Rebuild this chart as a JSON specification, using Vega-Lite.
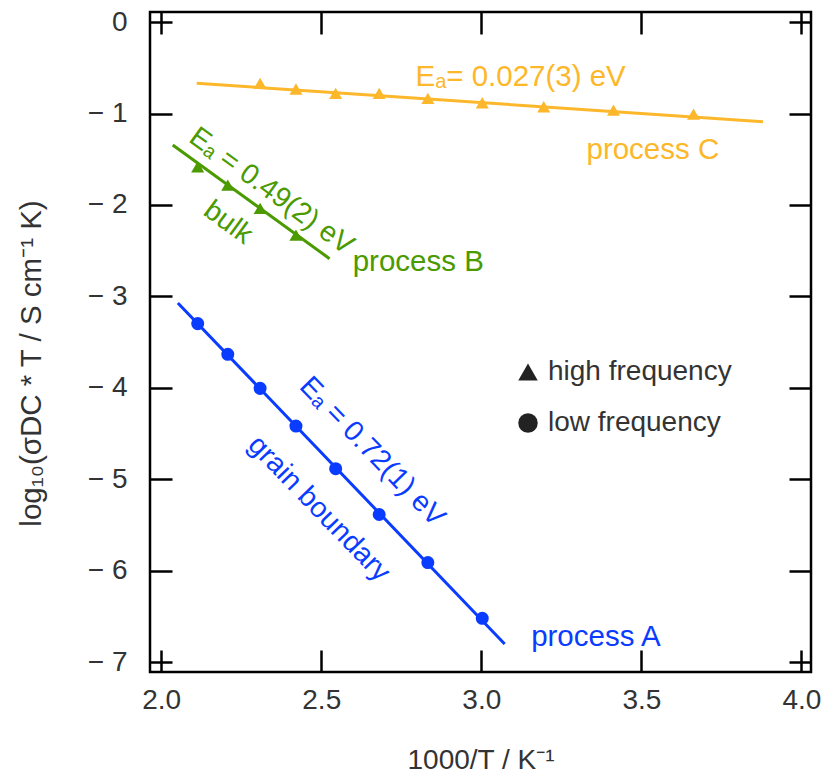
{
  "$schema": "https://vega.github.io/schema/vega-lite/v6.json",
  "width": 661,
  "height": 660,
  "autosize": {"type": "none"},
  "padding": {"left": 150, "top": 12, "right": 14, "bottom": 101},
  "background": "white",
  "config": {
    "font": "Liberation Sans",
    "view": {"stroke": "#000", "strokeWidth": 2.5},
    "axis": {
      "domain": false, "grid": false,
      "tickColor": "#000", "tickWidth": 2.5, "tickSize": -22,
      "labelFont": "Liberation Sans", "labelFontSize": 28, "labelColor": "#333",
      "titleFont": "Liberation Sans", "titleFontSize": 28, "titleColor": "#333", "titleFontWeight": "normal"
    },
    "text": {"font": "Liberation Sans", "fontSize": 29.5}
  },
  "datasets": {
    "fits": [
      {"process": "A", "x": 2.052, "y": -3.071},
      {"process": "A", "x": 3.073, "y": -6.799},
      {"process": "B", "x": 2.036, "y": -1.345},
      {"process": "B", "x": 2.526, "y": -2.587},
      {"process": "C", "x": 2.111, "y": -0.670},
      {"process": "C", "x": 3.880, "y": -1.090}
    ],
    "points": [
      {"process": "A", "freq": "low frequency", "x": 2.114, "y": -3.297},
      {"process": "A", "freq": "low frequency", "x": 2.208, "y": -3.633},
      {"process": "A", "freq": "low frequency", "x": 2.309, "y": -4.005},
      {"process": "A", "freq": "low frequency", "x": 2.421, "y": -4.417},
      {"process": "A", "freq": "low frequency", "x": 2.545, "y": -4.883},
      {"process": "A", "freq": "low frequency", "x": 2.681, "y": -5.384},
      {"process": "A", "freq": "low frequency", "x": 2.833, "y": -5.909},
      {"process": "A", "freq": "low frequency", "x": 3.003, "y": -6.519},
      {"process": "B", "freq": "high frequency", "x": 2.114, "y": -1.583},
      {"process": "B", "freq": "high frequency", "x": 2.208, "y": -1.783},
      {"process": "B", "freq": "high frequency", "x": 2.309, "y": -2.038},
      {"process": "B", "freq": "high frequency", "x": 2.421, "y": -2.330},
      {"process": "C", "freq": "high frequency", "x": 2.309, "y": -0.670},
      {"process": "C", "freq": "high frequency", "x": 2.421, "y": -0.732},
      {"process": "C", "freq": "high frequency", "x": 2.545, "y": -0.779},
      {"process": "C", "freq": "high frequency", "x": 2.681, "y": -0.779},
      {"process": "C", "freq": "high frequency", "x": 2.833, "y": -0.834},
      {"process": "C", "freq": "high frequency", "x": 3.003, "y": -0.882},
      {"process": "C", "freq": "high frequency", "x": 3.195, "y": -0.926},
      {"process": "C", "freq": "high frequency", "x": 3.413, "y": -0.963},
      {"process": "C", "freq": "high frequency", "x": 3.663, "y": -1.006}
    ],
    "flatLabels": [
      {"process": "C", "text": "Eₐ= 0.027(3) eV", "x": 3.123, "y": -0.601},
      {"process": "C", "text": "process C", "x": 3.536, "y": -1.400},
      {"process": "B", "text": "process B", "x": 2.803, "y": -2.622},
      {"process": "A", "text": "process A", "x": 3.358, "y": -6.719}
    ],
    "greenLabels": [
      {"process": "B", "text": "Eₐ = 0.49(2) eV", "x": 2.345, "y": -1.845},
      {"process": "B", "text": "bulk", "x": 2.210, "y": -2.188}
    ],
    "blueLabels": [
      {"process": "A", "text": "Eₐ = 0.72(1) eV", "x": 2.660, "y": -4.694},
      {"process": "A", "text": "grain boundary", "x": 2.494, "y": -5.318}
    ],
    "frame": [{"x": 3, "y": -3}]
  },
  "layer": [
    {
      "encoding": {
        "x": {"field": "x", "type": "quantitative",
              "scale": {"domain": [1.965, 4.03], "nice": false, "zero": false},
              "axis": {"orient": "bottom", "values": [2, 2.5, 3, 3.5, 4], "format": ".1f",
                       "labelPadding": 36, "title": "1000/T / K⁻¹",
                       "titleBaseline": "alphabetic", "titleY": 96}},
        "y": {"field": "y", "type": "quantitative",
              "scale": {"domain": [-7.106, 0.11], "nice": false, "zero": false},
              "axis": {"orient": "left", "values": [0, -1, -2, -3, -4, -5, -6, -7],
                       "labelExpr": "datum.value == 0 ? '0' : '− ' + abs(datum.value)",
                       "labelPadding": 45, "labelBaseline": "middle",
                       "title": "log₁₀(σDC * T / S cm⁻¹ K)", "titleFontSize": 29.5,
                       "titleAngle": 270, "titleBaseline": "middle", "titleX": -119, "titleY": 351}},
        "color": {"field": "process", "type": "nominal",
                  "scale": {"domain": ["A", "B", "C"], "range": ["#0a3cff", "#4a9a00", "#fdb72a"]},
                  "legend": null}
      },
      "layer": [
        {
          "data": {"name": "fits"},
          "mark": {"type": "line", "strokeWidth": 3},
          "encoding": {"detail": {"field": "process"}}
        },
        {
          "data": {"name": "points"},
          "mark": {"type": "point", "filled": true, "opacity": 1, "size": 170},
          "encoding": {
            "shape": {"field": "freq", "type": "nominal",
                      "scale": {"domain": ["high frequency", "low frequency"], "range": ["triangle-up", "circle"]},
                      "legend": {"title": null, "orient": "none", "legendX": 364, "legendY": 346,
                                 "padding": 0, "symbolSize": 380, "symbolFillColor": "#222",
                                 "symbolStrokeColor": "#222", "symbolStrokeWidth": 0,
                                 "labelFontSize": 28, "labelColor": "#333", "labelFont": "Liberation Sans",
                                 "labelOffset": 6, "labelLimit": 0, "rowPadding": 23}}
          }
        },
        {
          "data": {"name": "flatLabels"},
          "mark": {"type": "text", "align": "center", "baseline": "middle"},
          "encoding": {"text": {"field": "text"}}
        },
        {
          "data": {"name": "greenLabels"},
          "mark": {"type": "text", "align": "center", "baseline": "middle", "angle": 36, "fontSize": 28.5},
          "encoding": {"text": {"field": "text"}}
        },
        {
          "data": {"name": "blueLabels"},
          "mark": {"type": "text", "align": "center", "baseline": "middle", "angle": 46, "fontSize": 28.5},
          "encoding": {"text": {"field": "text"}}
        }
      ]
    },
    {
      "data": {"name": "frame"},
      "mark": {"type": "point", "opacity": 0},
      "encoding": {
        "x": {"field": "x", "type": "quantitative",
              "scale": {"domain": [1.965, 4.03], "nice": false, "zero": false},
              "axis": {"orient": "top", "values": [2, 2.5, 3, 3.5, 4], "labels": false, "title": null}},
        "y": {"field": "y", "type": "quantitative",
              "scale": {"domain": [-7.106, 0.11], "nice": false, "zero": false},
              "axis": {"orient": "right", "values": [0, -1, -2, -3, -4, -5, -6, -7], "labels": false, "title": null}}
      }
    }
  ],
  "resolve": {"scale": {"x": "independent", "y": "independent"}}
}
